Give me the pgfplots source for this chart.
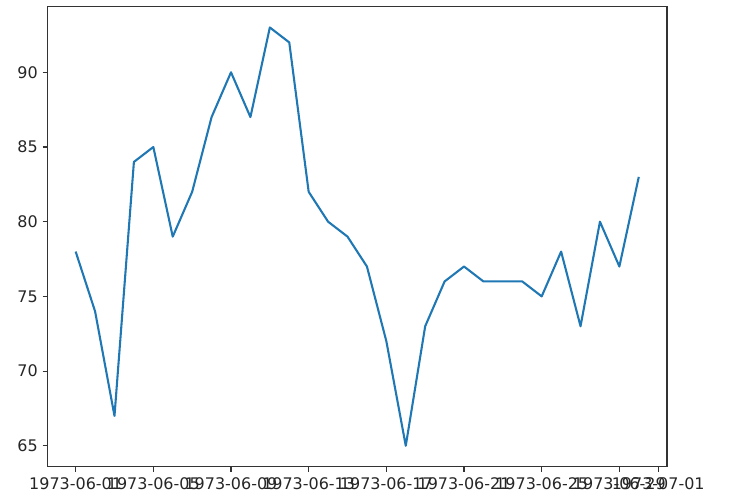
\documentclass[border=0pt]{standalone}
\usepackage{fontspec}
\setmainfont{DejaVu Sans}
\usepackage{pgfplots}
\pgfplotsset{compat=1.18}
\definecolor{C0}{HTML}{1F77B4}
\begin{document}
\begin{tikzpicture}[x=0.72pt,y=0.72pt]
\begin{axis}[
  at={(0,0)}, anchor=south west,
  scale only axis,
  width=446pt, height=331.3pt,
  xmin=-1.45, xmax=30.45,
  ymin=63.6, ymax=94.4,
  xtick={0,4,8,12,16,20,24,28,30},
  xticklabels={1973-06-01,1973-06-05,1973-06-09,1973-06-13,1973-06-17,1973-06-21,1973-06-25,1973-06-29,1973-07-01},
  ytick={65,70,75,80,85,90},
  /pgf/number format/assume math mode=true,
  tick label style={font=\fontsize{11.5}{13}\selectfont, black!85},
  axis line style={line width=0.8pt, black!80},
  major tick length=3.5pt,
  every tick/.style={line width=0.8pt, black!80},
  tick align=outside,
  xtick pos=bottom, ytick pos=left,
  xticklabel style={yshift=-1pt},
  clip=false,
]
\addplot[C0, line width=1.5pt, line join=round] coordinates {
(0,78)(1,74)(2,67)(3,84)(4,85)(5,79)(6,82)(7,87)(8,90)(9,87)
(10,93)(11,92)(12,82)(13,80)(14,79)(15,77)(16,72)(17,65)(18,73)(19,76)
(20,77)(21,76)(22,76)(23,76)(24,75)(25,78)(26,73)(27,80)(28,77)(29,83)
};
\end{axis}
\path[use as bounding box] (-47.5,-35.3) rectangle (704.5,466.7);
\end{tikzpicture}
\end{document}
